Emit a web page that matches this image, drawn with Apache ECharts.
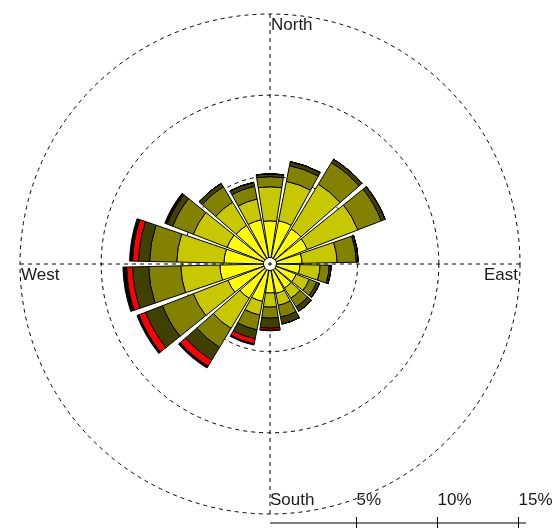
<!DOCTYPE html>
<html>
<head>
<meta charset="utf-8">
<script src="https://cdn.jsdelivr.net/npm/echarts@6/dist/echarts.min.js"></script>
<style>
  html, body { margin: 0; padding: 0; background: #fff; }
  #chart { width: 556px; height: 528px; }
</style>
</head>
<body>
<div id="chart"></div>
<script>
// Wind directions (degrees, 20 degree sectors)
const directions = ['0', '20', '40', '60', '80', '100', '120', '140', '160',
                    '180', '200', '220', '240', '260', '280', '300', '320', '340'];

// Frequency (%) of each wind-speed band per direction, lightest band first
const band1 = [2.26, 2.32, 2.13, 2.07, 1.58, 1.45, 1.33, 1.33, 1.45, 1.39, 1.95, 2.07, 2.38, 2.69, 2.44, 2.44, 2.38, 2.38];
const band2 = [2.10, 2.47, 3.22, 3.34, 2.16, 1.24, 0.87, 0.74, 0.75, 0.87, 0.86, 2.17, 2.29, 2.41, 2.91, 2.23, 1.67, 1.30];
const band3 = [0.62, 0.99, 1.55, 1.55, 1.18, 0.56, 0.49, 0.62, 0.74, 0.68, 0.93, 1.36, 2.04, 1.98, 1.67, 1.36, 1.11, 0.80];
const band4 = [0.18, 0.25, 0.24, 0.25, 0.12, 0.12, 0.19, 0.31, 0.43, 0.62, 0.56, 0.92, 1.11, 0.99, 0.68, 0.37, 0.25, 0.25];
const band5 = [0, 0, 0, 0, 0, 0, 0, 0, 0, 0.12, 0.31, 0.44, 0.44, 0.37, 0.37, 0.06, 0, 0];
const band6 = [0, 0, 0, 0, 0, 0, 0, 0, 0, 0.04, 0.08, 0.13, 0.13, 0.22, 0.18, 0.09, 0, 0];

const bandColors = ['#FFFF00', '#C8C800', '#828200', '#404000', '#FF0000', '#000000'];

// Percentage rings and scale labels
const ringValues = [5, 10, 15];
const ringLabels = ['5%', '10%', '15%'];
const compassLabels = ['North', 'East', 'South', 'West'];

// Geometry of the rose
const CX = 270, CY = 264;
const R_INNER = 6.5, R_OUTER = 250;
const R_MAX = 15;
const radiusPx = v => R_INNER + (R_OUTER - R_INNER) * v / R_MAX;

const FONT = '"Liberation Sans", Arial, sans-serif';
const TEXT_COLOR = '#1a1a1a';

const chart = echarts.init(document.getElementById('chart'), null, { renderer: 'canvas' });

const bands = [band1, band2, band3, band4, band5, band6];
const series = bands.map((vals, i) => ({
  type: 'bar',
  coordinateSystem: 'polar',
  polarIndex: 0,
  stack: 'speed',
  data: vals,
  barCategoryGap: '12%',
  itemStyle: { color: bandColors[i], borderColor: '#000', borderWidth: 1 },
  silent: true,
  animation: false
}));

const option = {
  backgroundColor: '#fff',
  animation: false,
  polar: [
    { center: [CX, CY], radius: [R_INNER, R_OUTER] },
    { center: [CX, CY], radius: [0, R_OUTER] }
  ],
  angleAxis: [
    {
      polarIndex: 0,
      type: 'category',
      data: directions,
      startAngle: 100,
      clockwise: true,
      boundaryGap: true,
      axisLine: { show: false },
      axisTick: { show: false },
      axisLabel: { show: false },
      splitLine: { show: false }
    },
    {
      polarIndex: 1,
      type: 'value',
      min: 0,
      max: 360,
      interval: 90,
      startAngle: 90,
      clockwise: true,
      axisLine: { show: false },
      axisTick: { show: false },
      axisLabel: { show: false },
      splitLine: { show: true, lineStyle: { color: '#000', width: 1, type: [4, 4] } }
    }
  ],
  radiusAxis: [
    {
      polarIndex: 0,
      type: 'value',
      min: 0,
      max: R_MAX,
      interval: 5,
      axisLine: { show: false },
      axisTick: { show: false },
      axisLabel: { show: false },
      splitLine: { show: true, showMinLine: false, lineStyle: { color: '#000', width: 1, type: [4, 4] } }
    },
    {
      polarIndex: 1,
      type: 'value',
      min: 0,
      max: 1,
      axisLine: { show: false },
      axisTick: { show: false },
      axisLabel: { show: false },
      splitLine: { show: false }
    }
  ],
  series: series
};

chart.setOption(option);

// Compass labels and the percentage scale bar
const txt = (text, x, y, align) => ({
  type: 'text',
  x: x, y: y,
  style: { text: text, fill: TEXT_COLOR, font: '17px ' + FONT, align: align, verticalAlign: 'middle' },
  silent: true
});

const graphics = [
  txt(compassLabels[0], CX + 1, 25, 'left'),
  txt(compassLabels[1], CX + R_OUTER - 2, 275, 'right'),
  txt(compassLabels[2], CX, 500, 'left'),
  txt(compassLabels[3], CX - R_OUTER + 1, 275, 'left')
];

const barY = 523;
graphics.push({
  type: 'line',
  shape: { x1: CX, y1: barY, x2: CX + R_OUTER + 6, y2: barY },
  style: { stroke: '#000', lineWidth: 1 },
  silent: true
});
ringValues.forEach((v, i) => {
  const x = Math.round(CX + radiusPx(v)) - 1.5;
  graphics.push({
    type: 'line',
    shape: { x1: x, y1: barY - 6, x2: x, y2: barY + 5 },
    style: { stroke: '#000', lineWidth: 1 },
    silent: true
  });
  graphics.push(txt(ringLabels[i], x, 500, 'left'));
});

chart.setOption({ graphic: graphics });
</script>
</body>
</html>
